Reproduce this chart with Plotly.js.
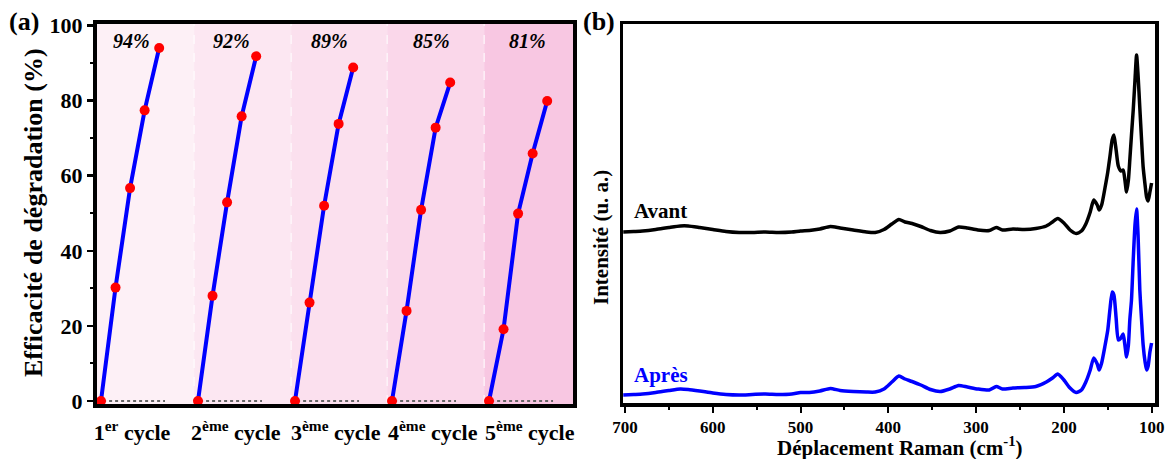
<!DOCTYPE html>
<html>
<head>
<meta charset="utf-8">
<script src="https://cdn.plot.ly/plotly-3.0.1.min.js"></script>
<style>html,body{margin:0;padding:0;background:#fff;}#chart{width:1165px;height:459px;}</style>
</head>
<body>
<div id="chart"></div>
<script>
// ---------- Panel (a) data ----------
const cycleLabels = ['1<sup>er</sup> cycle', '2<sup>ème</sup> cycle', '3<sup>ème</sup> cycle', '4<sup>ème</sup> cycle', '5<sup>ème</sup> cycle'];
const times = [0, 15, 30, 45, 60];
const eff1 = [0, 30.2, 56.7, 77.4, 94.0];
const eff2 = [0, 28.0, 52.9, 75.8, 91.8];
const eff3 = [0, 26.2, 52.0, 73.8, 88.8];
const eff4 = [0, 24.0, 50.9, 72.8, 84.8];
const eff5 = [0, 19.1, 49.9, 65.9, 79.9];
const finalLabels = ['94%', '92%', '89%', '85%', '81%'];

// ---------- Panel (b) data ----------
const wavenumber = [702, 690, 680, 665, 650, 637, 628, 615, 600, 585, 570, 555, 540, 525, 510, 500, 490, 478, 466, 455, 440, 425, 415, 405, 396, 388, 381, 373, 363, 352, 341, 330, 320, 310, 298, 285, 277, 270, 258, 245, 232, 220, 213, 207, 200, 193, 186, 180, 175, 170, 166, 162, 159.8, 157, 153, 150, 147.6, 145, 143, 140.5, 138, 135, 132.5, 130.5, 128.6, 126.5, 124.9, 123, 121, 119, 117.2, 115.5, 113.5, 111.5, 109.7, 107.5, 105.8, 104, 102, 100.1];
const avant = [171, 171.5, 172, 173.5, 175.5, 177, 177, 175.5, 173.5, 171.5, 170.5, 170.5, 171, 170.5, 171, 172, 172.5, 174, 176.5, 175, 173, 171, 170.5, 173.5, 179, 183.5, 181, 179.5, 176.5, 172.5, 170.5, 172, 176, 175, 173, 172.5, 175.5, 173, 174, 173.5, 174.5, 177, 181, 184.5, 180, 173, 169.5, 172, 179, 191, 203, 198, 193, 198, 216, 231, 246, 263, 268, 253, 237, 232, 233, 223, 211, 223, 243, 268, 293, 323, 348, 328, 295, 263, 236, 218, 206, 202, 211, 220];
const apres = [8, 8.5, 9, 10.5, 12.5, 14, 13.5, 12, 10, 8.5, 8, 8.5, 9, 8.5, 9, 10.5, 10.5, 12, 14.5, 12.5, 11.5, 11, 11, 14, 21, 27, 24, 21.5, 18, 13.5, 11.5, 14, 17.5, 16, 14, 13, 16.5, 14, 15, 15.5, 16.5, 21, 25, 29, 23, 15, 10.5, 13, 21, 33, 45, 39, 33, 40, 58, 73, 93, 111, 108, 85, 63, 65, 69, 58, 46, 58, 83, 103, 143, 178, 194, 168, 113, 83, 58, 41, 33, 37, 51, 60];

// ---------- Layout helpers ----------
const W = 1165, H = 459;
const px = v => v / W;
const py = v => 1 - v / H;
const cycleStep = 100;
const effs = [eff1, eff2, eff3, eff4, eff5];
const sectionColors = ['#fdf0f6', '#fce7f2', '#fbe0ee', '#fad7ea', '#f8c7e2'];
const labelOffsets = [31, 35, 36, 40.5, 40];
const tickOffsets = [32, 39, 42, 42, 42];
const serif = 'Liberation Serif, Times New Roman, serif';

const traces = [];
effs.forEach((e, k) => {
  traces.push({
    x: times.map(t => t + k * cycleStep), y: e,
    xaxis: 'x', yaxis: 'y', type: 'scatter', mode: 'lines+markers',
    line: {color: '#0000ff', width: 4},
    marker: {color: '#ff0000', size: 10},
    cliponaxis: false, hoverinfo: 'skip'
  });
});
traces.push({x: wavenumber, y: avant, xaxis: 'x2', yaxis: 'y2', type: 'scatter', mode: 'lines',
  line: {color: '#000000', width: 3.5, shape: 'spline', smoothing: 0.6}, hoverinfo: 'skip'});
traces.push({x: wavenumber, y: apres, xaxis: 'x2', yaxis: 'y2', type: 'scatter', mode: 'lines',
  line: {color: '#0000ff', width: 3.5, shape: 'spline', smoothing: 0.6}, hoverinfo: 'skip'});

const shapes = [];
const bounds = [-4.1, 96, 196, 295, 395, 486.6];
for (let k = 0; k < 5; k++) {
  shapes.push({type: 'rect', xref: 'x', yref: 'y domain', x0: bounds[k], x1: bounds[k + 1], y0: 0, y1: 1,
    fillcolor: sectionColors[k], line: {width: 0}, layer: 'below'});
}
for (let k = 1; k < 5; k++) {
  shapes.push({type: 'line', xref: 'x', yref: 'y domain', x0: bounds[k], x1: bounds[k], y0: 0, y1: 1,
    line: {color: '#ffffff', width: 1, dash: 'dash'}, layer: 'below'});
}
for (let k = 0; k < 5; k++) {
  shapes.push({type: 'line', xref: 'x', yref: 'y', x0: k * cycleStep - 4, x1: k * cycleStep + 66, y0: 0, y1: 0,
    line: {color: '#666666', width: 2, dash: 'dot'}, layer: 'below'});
}

function ann(text, x, y, size, extra) {
  return Object.assign({text: text, xref: 'paper', yref: 'paper', x: px(x), y: py(y),
    xanchor: 'center', yanchor: 'middle', showarrow: false,
    font: {family: serif, size: size, color: '#000'}}, extra || {});
}
const annotations = [
  ann('<b>(a)</b>', 24, 22, 26),
  ann('<b>(b)</b>', 599, 22, 26),
  ann('<b>Efficacité de dégradation (%)</b>', 33, 213, 26, {textangle: -90}),
  ann('<b>Intensité (u. a.)</b>', 601, 238, 21, {textangle: -90}),
  ann('<b>Déplacement Raman (cm<sup>-1</sup>)</b>', 900, 446, 21),
  ann('<b>Avant</b>', 632, 211, 21, {xanchor: 'left'}),
  ann('<b>Après</b>', 632, 375, 21, {xanchor: 'left', font: {family: serif, size: 21, color: '#0000ff'}})
];
finalLabels.forEach((t, k) => {
  annotations.push({text: '<b><i>' + t + '</i></b>', xref: 'x', yref: 'y', x: k * cycleStep + labelOffsets[k], y: 95.8,
    xanchor: 'center', yanchor: 'middle', showarrow: false, font: {family: serif, size: 20, color: '#000'}});
});

const layout = {
  width: W, height: H, margin: {l: 0, r: 0, t: 0, b: 0},
  paper_bgcolor: '#ffffff', plot_bgcolor: 'rgba(0,0,0,0)', showlegend: false,
  font: {family: serif, color: '#000'},
  xaxis: {domain: [px(97), px(573)], range: [-4.1, 486.6], anchor: 'y',
    tickvals: tickOffsets.map((o, k) => k * cycleStep + o), ticktext: cycleLabels,
    ticks: '', ticklabelstandoff: 6, tickfont: {family: serif, size: 22, weight: 'bold', color: '#000'},
    showgrid: false, zeroline: false, showline: true, linecolor: '#000', linewidth: 4, mirror: true},
  yaxis: {domain: [py(404), py(24)], range: [-0.8, 100.4], anchor: 'x',
    tickvals: [0, 20, 40, 60, 80, 100], ticks: 'outside', ticklen: 6, tickwidth: 2.5, tickcolor: '#000',
    minor: {dtick: 10, tick0: 0, ticks: 'outside', ticklen: 3, tickwidth: 2, tickcolor: '#000'},
    tickfont: {family: serif, size: 22, weight: 'bold', color: '#000'},
    showgrid: false, zeroline: false, showline: true, linecolor: '#000', linewidth: 4, mirror: true},
  xaxis2: {domain: [px(623), px(1155)], range: [702.3, 96.2], anchor: 'y2',
    tickvals: [700, 600, 500, 400, 300, 200, 100], ticks: 'outside', ticklen: 6, tickwidth: 2, tickcolor: '#000',
    minor: {dtick: 50, tick0: 0, ticks: 'outside', ticklen: 3, tickwidth: 2, tickcolor: '#000'},
    tickfont: {family: serif, size: 17, weight: 'bold', color: '#000'},
    showgrid: false, zeroline: false, showline: true, linecolor: '#000', linewidth: 3.5, mirror: true},
  yaxis2: {domain: [py(403), py(24)], range: [0, 379], anchor: 'x2',
    showticklabels: false, ticks: '', showgrid: false, zeroline: false,
    showline: true, linecolor: '#000', linewidth: 3.5, mirror: true},
  shapes: shapes, annotations: annotations
};

Plotly.newPlot('chart', traces, layout, {staticPlot: true, displayModeBar: false});
</script>
</body>
</html>
